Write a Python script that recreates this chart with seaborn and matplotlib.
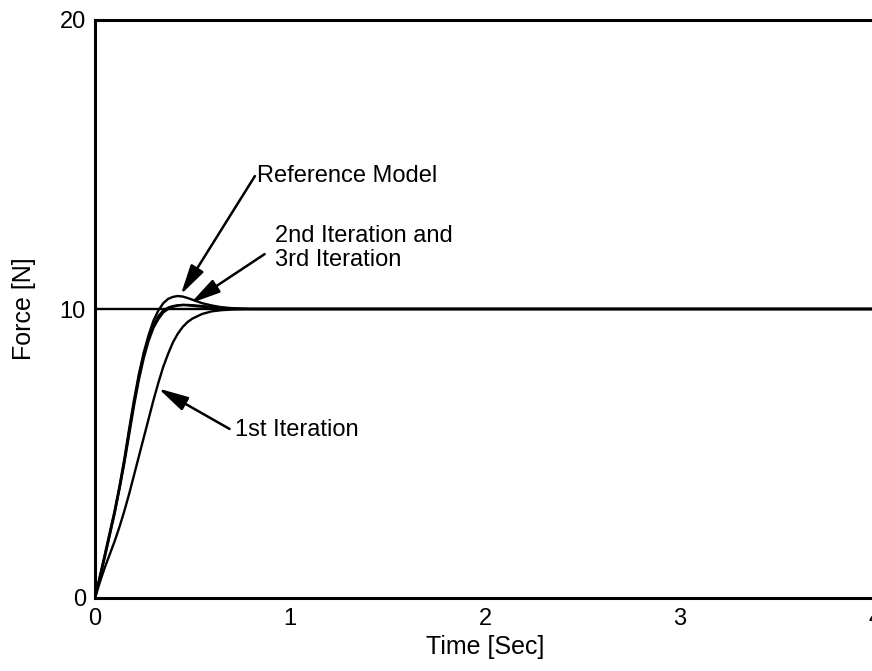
import matplotlib
matplotlib.use("Agg")
import matplotlib.pyplot as plt
import pandas as pd
import seaborn as sns

# Force response to a 10 N step command
step_time = [0.0, 4.0]
step_force = [10.0, 10.0]

# Sample instants shared by the response curves [s]
sample_time = [0.0, 0.025, 0.05, 0.075, 0.1, 0.125, 0.15, 0.175, 0.2, 0.225,
               0.25, 0.275, 0.3, 0.325, 0.35, 0.375, 0.4, 0.425, 0.45, 0.475,
               0.5, 0.55, 0.6, 0.65, 0.7, 0.75, 0.8, 4.0]

ref_force = [0.0, 0.75, 1.5, 2.25, 3.0, 3.85, 4.8, 5.85, 6.85, 7.75,
             8.5, 9.1, 9.6, 9.95, 10.2, 10.35, 10.42, 10.45, 10.43, 10.38,
             10.32, 10.2, 10.12, 10.06, 10.03, 10.01, 10.0, 10.0]

it1_force = [0.0, 0.55, 1.05, 1.5, 1.95, 2.45, 3.0, 3.6, 4.25, 4.9,
             5.55, 6.2, 6.85, 7.45, 8.0, 8.45, 8.85, 9.15, 9.38, 9.55,
             9.67, 9.83, 9.92, 9.96, 9.98, 9.99, 10.0, 10.0]

it2_force = [0.0, 0.7, 1.4, 2.15, 2.9, 3.75, 4.65, 5.65, 6.65, 7.55,
             8.3, 8.9, 9.35, 9.65, 9.88, 10.0, 10.08, 10.12, 10.14, 10.14,
             10.13, 10.1, 10.07, 10.04, 10.02, 10.01, 10.0, 10.0]

it3_force = [0.0, 0.72, 1.45, 2.2, 2.95, 3.8, 4.72, 5.75, 6.75, 7.65,
             8.4, 9.0, 9.45, 9.75, 9.95, 10.05, 10.1, 10.13, 10.14, 10.13,
             10.11, 10.08, 10.05, 10.03, 10.01, 10.0, 10.0, 10.0]

x_ticks = [0, 1, 2, 3, 4]
y_ticks = [0, 10, 20]

curves = pd.concat([
    pd.DataFrame({"Time": step_time, "Force": step_force, "curve": "Command"}),
    pd.DataFrame({"Time": sample_time, "Force": ref_force, "curve": "Reference Model"}),
    pd.DataFrame({"Time": sample_time, "Force": it1_force, "curve": "1st Iteration"}),
    pd.DataFrame({"Time": sample_time, "Force": it2_force, "curve": "2nd Iteration"}),
    pd.DataFrame({"Time": sample_time, "Force": it3_force, "curve": "3rd Iteration"}),
], ignore_index=True)

sns.set_style("white")
plt.rcParams["font.family"] = ["Liberation Sans", "DejaVu Sans"]
plt.rcParams.update({"text.color": "black", "axes.labelcolor": "black",
                     "xtick.color": "black", "ytick.color": "black"})

fig = plt.figure(figsize=(8.72, 6.71), dpi=100)
ax = fig.add_axes([95 / 872, 73 / 671, 780 / 872, 578 / 671])

palette = {name: "black" for name in curves["curve"].unique()}
sns.lineplot(data=curves, x="Time", y="Force", hue="curve", palette=palette,
             estimator=None, sort=False, linewidth=1.7, legend=False, ax=ax)

ax.set_xlim(0, 4)
ax.set_ylim(0, 20)
ax.set_xticks(x_ticks)
ax.set_yticks(y_ticks)
ax.set_xticklabels([str(v) for v in x_ticks])
ax.set_yticklabels([str(v) for v in y_ticks])
ax.tick_params(axis="both", direction="out", length=5, width=1.5,
               color="black", labelsize=17, labelcolor="black")
ax.tick_params(axis="x", pad=2)
ax.tick_params(axis="y", pad=1.5)

for side in ["left", "bottom", "top", "right"]:
    ax.spines[side].set_visible(True)
    ax.spines[side].set_color("black")
    ax.spines[side].set_linewidth(2.2)

ax.set_xlabel("Time [Sec]", fontsize=18, labelpad=4)
ax.set_ylabel("Force [N]", fontsize=18, labelpad=17)

arrow = dict(arrowstyle="-|>,head_length=1.3,head_width=0.32", color="black",
             lw=1.8, shrinkA=0, shrinkB=0, mutation_scale=14)
ax.annotate("", xy=(0.44, 10.5), xytext=(0.82, 14.6), arrowprops=arrow)
ax.text(0.83, 14.6, "Reference Model", fontsize=17, ha="left", va="center")

ax.annotate("", xy=(0.49, 10.2), xytext=(0.87, 11.9), arrowprops=arrow)
ax.text(0.925, 12.1, "2nd Iteration and\n3rd Iteration", fontsize=17,
        ha="left", va="center", linespacing=1.1)

ax.annotate("", xy=(0.325, 7.25), xytext=(0.69, 5.85), arrowprops=arrow)
ax.text(0.72, 5.8, "1st Iteration", fontsize=17, ha="left", va="center")

fig.savefig("out.png", dpi=100)
